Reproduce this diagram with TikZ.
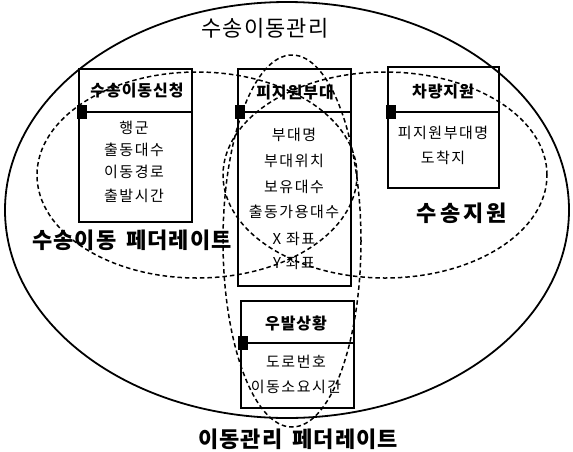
\documentclass[tikz,border=0pt]{standalone}
\usepackage{fontspec}
\newfontfamily\kritem[LetterSpace=10]{Noto Sans CJK KR}
\newfontfamily\krttl[LetterSpace=6]{Noto Sans CJK KR}
\newfontfamily\krbig[LetterSpace=5]{Noto Sans CJK KR}
\newfontfamily\krwide[LetterSpace=14]{Noto Sans CJK KR}
\begin{document}
\begin{tikzpicture}[x=1pt,y=-1pt,
  frame/.style={draw, line width=1.9pt, inner sep=0pt, anchor=north west},
  divider/.style={line width=1.9pt},
  fed/.style={draw, dash pattern=on 4.5pt off 3pt, line width=1.5pt},
  outer/.style={draw, line width=1.8pt},
  item/.style={font=\fontsize{15}{15}\selectfont\kritem, inner sep=0pt},
  ttl/.style={font=\fontsize{16}{16}\selectfont\krttl\bfseries, inner sep=0pt},
  big/.style={font=\fontsize{22}{22}\selectfont\krbig\bfseries, inner sep=0pt},
  port/.style={fill=black, minimum width=10pt, minimum height=14pt, inner sep=0pt, anchor=west}
]
\useasboundingbox (0,0) rectangle (573,451);
\fill[white] (0,0) rectangle (573,451);

% outer ellipse
\draw[outer] (287,210) ellipse [x radius=282pt, y radius=208pt];

% boxes
\node[frame, minimum width=113pt, minimum height=153pt] (b1) at (78,68) {};
\node[frame, minimum width=113pt, minimum height=217pt] (b2) at (237,68) {};
\node[frame, minimum width=111pt, minimum height=121pt] (b3) at (387,66) {};
\node[frame, minimum width=113pt, minimum height=107pt] (b4) at (240,300) {};

\coordinate (d) at (0,112);
\coordinate (d4) at (0,343);
\draw[divider] (b1.west |- d) -- (b1.east |- d);
\draw[divider] (b2.west |- d) -- (b2.east |- d);
\draw[divider] (b3.west |- d) -- (b3.east |- d);
\draw[divider] (b4.west |- d4) -- (b4.east |- d4);

\node[port, xshift=-1pt] (p1) at (b1.west |- d) {};
\node[port, xshift=-2.5pt] (p2) at (b2.west |- d) {};
\node[port, xshift=-1pt] (p3) at (b3.west |- d) {};
\node[port, xshift=-2pt] (p4) at (b4.west |- d4) {};

% box 1
\node[ttl] (t1) at (137,91) {수송이동신청};
\node[item] (i11) at (134,128) {행군};
\node[item] (i12) at (134,150) {출동대수};
\node[item] (i13) at (134,172) {이동경로};
\node[item] (i14) at (134,196) {출발시간};

% box 2
\node[ttl] (t2) at (295,93) {피지원부대};
\node[item] (i21) at (294,135) {부대명};
\node[item] (i22) at (294,161) {부대위치};
\node[item] (i23) at (294,187) {보유대수};
\node[item] (i24) at (294,212) {출동가용대수};
\node[item] (i25) at (294,239) {X 좌표};
\node[item] (i26) at (294,263) {Y 좌표};

% box 3
\node[ttl] (t3) at (443,92) {차량지원};
\node[item] (i31) at (443,133) {피지원부대명};
\node[item] (i32) at (443,158) {도착지};

% box 4
\node[ttl] (t4) at (296,323) {우발상황};
\node[item] (i41) at (296,362) {도로번호};
\node[item] (i42) at (296,387) {이동소요시간};

% federation ellipses
\draw[fed] (197,175) ellipse [x radius=160pt, y radius=103pt];
\draw[fed] (385,175) ellipse [x radius=162pt, y radius=103pt];
\draw[fed] (292,241) ellipse [x radius=69pt, y radius=186pt];

% labels
\node[font=\fontsize{22}{22}\selectfont\krbig, inner sep=0pt] (lt) at (265,28) {수송이동관리};
\node[big] (ll) at (132,240) {수송이동\hspace{10pt}페더레이트};
\node[font=\fontsize{22}{22}\selectfont\krwide\bfseries, inner sep=0pt] (lr) at (462,213) {수송지원};
\node[big] (lb) at (298,439) {이동관리\hspace{10pt}페더레이트};
\end{tikzpicture}
\end{document}
